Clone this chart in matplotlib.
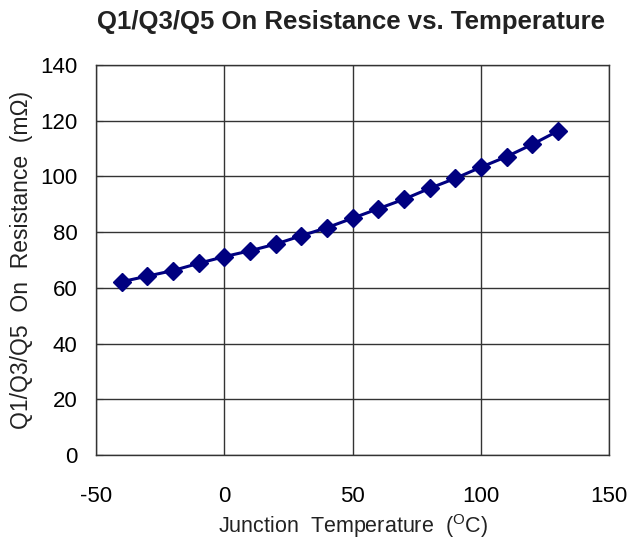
import matplotlib
matplotlib.use("Agg")
import matplotlib.pyplot as plt

plt.rcParams['font.family'] = ['Liberation Sans', 'DejaVu Sans']
plt.rcParams['mathtext.fontset'] = 'custom'
plt.rcParams['mathtext.rm'] = 'Liberation Sans'
plt.rcParams['axes.unicode_minus'] = False

#=== Data ===
temps = [-40, -30, -20, -10, 0, 10, 20, 30, 40, 50, 60, 70, 80, 90, 100, 110, 120, 130]
ron = [62.2, 64.2, 66.2, 68.8, 71.2, 73.3, 75.7, 78.7, 81.6, 85.0,
       88.4, 91.8, 95.7, 99.3, 103.3, 107.1, 111.5, 116.3]
xticks = [-50, 0, 50, 100, 150]
yticks = [0, 20, 40, 60, 80, 100, 120, 140]

fig = plt.figure(figsize=(6.32, 5.46), dpi=100, facecolor='white')
ax = fig.add_axes([0.152, 0.1667, 0.812, 0.7143])

ax.plot(temps, ron, color='#000080', lw=2.2, marker='D', markersize=9, zorder=3)

ax.set_xlim(-50, 150)
ax.set_ylim(0, 140)
ax.set_xticks(xticks)
ax.set_yticks(yticks)
ax.grid(True, color='#333333', lw=1.0)
ax.set_axisbelow(True)
for s in ax.spines.values():
    s.set_color('#333333')
    s.set_linewidth(1.0)

ax.tick_params(axis='x', length=0, pad=22, labelsize=16)
ax.tick_params(axis='y', direction='in', length=5, pad=13.5, labelsize=16, color='#333333')

ax.set_xlabel('Junction  Temperature  ($^{\\mathrm{O}}$C)', fontsize=15.5, labelpad=4, color='#222222')
ax.set_ylabel('Q1/Q3/Q5  On  Resistance  (m\u03a9)', fontsize=16.5, labelpad=5, color='#222222')
fig.text(0.556, 0.96, 'Q1/Q3/Q5 On Resistance vs. Temperature', ha='center', va='center',
         fontsize=18.5, weight='bold', color='#222222')

fig.savefig('out.png', dpi=100, facecolor='white')
